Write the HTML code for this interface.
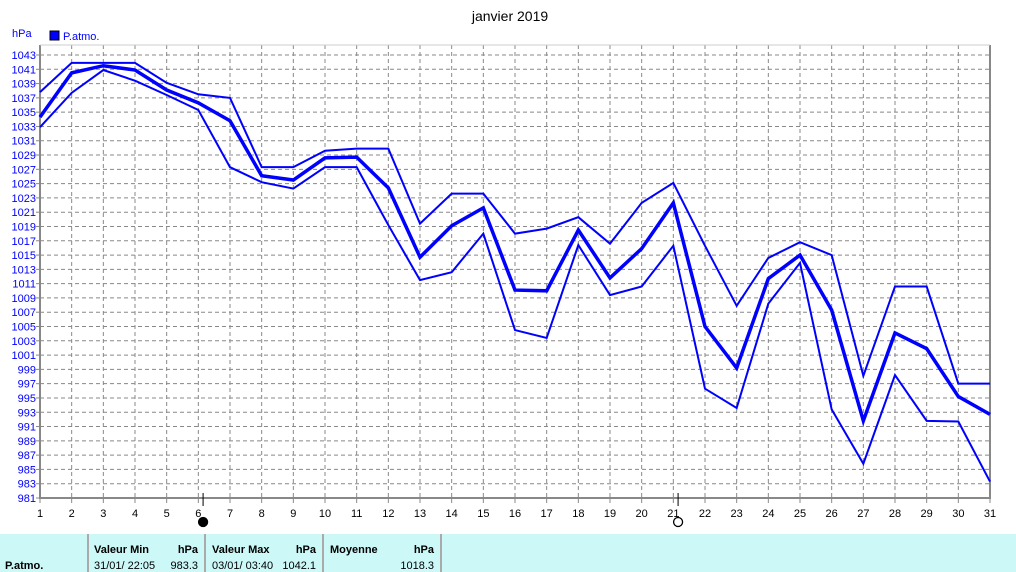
<!DOCTYPE html>
<html><head><meta charset="utf-8"><style>
body{margin:0;background:#fff;width:1016px;height:572px;overflow:hidden;font-family:"Liberation Sans",sans-serif}
svg{position:absolute;left:0;top:0}
</style></head><body>
<svg width="1016" height="572">
<text x="510" y="21" font-size="14" text-anchor="middle" fill="#000">janvier 2019</text>
<text x="12" y="37" font-size="11" fill="#00f">hPa</text>
<rect x="50" y="31" width="9" height="9" fill="#00f" stroke="#000" stroke-width="1"/>
<text x="63" y="40" font-size="11" fill="#00f">P.atmo.</text>
<g id="grid"></g><g id="axes"></g><g id="series"></g>
<rect x="0" y="534" width="1016" height="38" fill="#ccf8f8"/>
<g stroke="#aaa" stroke-width="2"><line x1="88" y1="534" x2="88" y2="572"/><line x1="205" y1="534" x2="205" y2="572"/><line x1="323" y1="534" x2="323" y2="572"/><line x1="441" y1="534" x2="441" y2="572"/></g>
<g font-size="11" fill="#000">
<text x="5" y="569" font-weight="bold">P.atmo.</text>
<text x="94" y="553" font-weight="bold">Valeur Min</text>
<text x="198" y="553" font-weight="bold" text-anchor="end">hPa</text>
<text x="94" y="569">31/01/  22:05</text>
<text x="198" y="569" text-anchor="end">983.3</text>
<text x="212" y="553" font-weight="bold">Valeur Max</text>
<text x="316" y="553" font-weight="bold" text-anchor="end">hPa</text>
<text x="212" y="569">03/01/  03:40</text>
<text x="316" y="569" text-anchor="end">1042.1</text>
<text x="330" y="553" font-weight="bold">Moyenne</text>
<text x="434" y="553" font-weight="bold" text-anchor="end">hPa</text>
<text x="434" y="569" text-anchor="end">1018.3</text>
</g>
</svg>
<script>
const days=[1,2,3,4,5,6,7,8,9,10,11,12,13,14,15,16,17,18,19,20,21,22,23,24,25,26,27,28,29,30,31];
const maxVals=[1037.8,1041.9,1041.9,1041.9,1039.1,1037.5,1037,1027.3,1027.3,1029.6,1029.9,1029.9,1019.4,1023.6,1023.6,1018,1018.7,1020.3,1016.6,1022.3,1025.1,1016.3,1007.9,1014.6,1016.8,1015,998.1,1010.6,1010.6,997,997];
const meanVals=[1034.3,1040.5,1041.5,1040.9,1038.1,1036.3,1033.8,1026.1,1025.5,1028.6,1028.7,1024.4,1014.7,1019.1,1021.6,1010.1,1010,1018.5,1011.8,1015.9,1022.3,1005,999.2,1011.7,1015,1007.3,991.8,1004.1,1001.9,995.2,992.7];
const minVals=[1032.9,1037.7,1040.9,1039.4,1037.4,1035.3,1027.3,1025.2,1024.3,1027.3,1027.3,1019.2,1011.5,1012.6,1018,1004.5,1003.4,1016.4,1009.4,1010.6,1016.3,996.3,993.6,1008.2,1013.9,993.4,985.8,998.2,991.8,991.7,983.3];
const yTicks=[981,983,985,987,989,991,993,995,997,999,1001,1003,1005,1007,1009,1011,1013,1015,1017,1019,1021,1023,1025,1027,1029,1031,1033,1035,1037,1039,1041,1043];
const moonPhases=[{day:6.15,full:false},{day:21.15,full:true}];
const NS='http://www.w3.org/2000/svg';
const X=d=>40+(d-1)*(950/30);
const Y=v=>55+(1043-v)*(443/62);
function mk(tag,attrs,parent){const e=document.createElementNS(NS,tag);for(const k in attrs)e.setAttribute(k,attrs[k]);parent.appendChild(e);return e;}
const grid=document.getElementById('grid'),axes=document.getElementById('axes'),series=document.getElementById('series');
yTicks.forEach(v=>{
 const l=mk('line',{x1:40,x2:990,y1:Y(v),y2:Y(v),stroke:'#888','stroke-dasharray':'4,3','stroke-width':1},grid);
 
 
 const t=mk('text',{x:36,y:Y(v)+4,'font-size':11,fill:'#00f','text-anchor':'end'},axes);t.textContent=v;
 
 
 mk('line',{x1:36,x2:40,y1:Y(v),y2:Y(v),stroke:'#888'},axes);
});
days.forEach(d=>{
 const l=mk('line',{x1:X(d),x2:X(d),y1:45,y2:498,stroke:'#888','stroke-dasharray':'4,3','stroke-width':1},grid);
 
 
 const t=mk('text',{x:X(d),y:517,'font-size':11,fill:'#000','text-anchor':'middle'},axes);t.textContent=d;
 
 
 mk('line',{x1:X(d),x2:X(d),y1:498,y2:503,stroke:'#888'},axes);
});
const fr=mk('path',{d:'M40 45 L40 498 L990 498 L990 45',fill:'none',stroke:'#888','stroke-width':2},axes);


mk('line',{x1:40,x2:990,y1:45,y2:45,stroke:'#ccc','stroke-width':1},axes);
moonPhases.forEach(m=>{
 mk('line',{x1:X(m.day),x2:X(m.day),y1:493,y2:506,stroke:'#000'},axes);
 const c=mk('circle',{cx:X(m.day),cy:522,r:4.5,fill:m.full?'#fff':'#000',stroke:'#000','stroke-width':1.3},axes);
 
 
});
function line(vals,w,name){
 const p=mk('polyline',{points:vals.map((v,i)=>X(days[i])+','+Y(v)).join(' '),fill:'none',stroke:'#00f','stroke-width':w,'stroke-linejoin':'miter'},series);
 
 
}
line(maxVals,2,'max-pressure-line');
line(minVals,2,'min-pressure-line');
line(meanVals,3.5,'mean-pressure-line');
</script>
</body></html>
